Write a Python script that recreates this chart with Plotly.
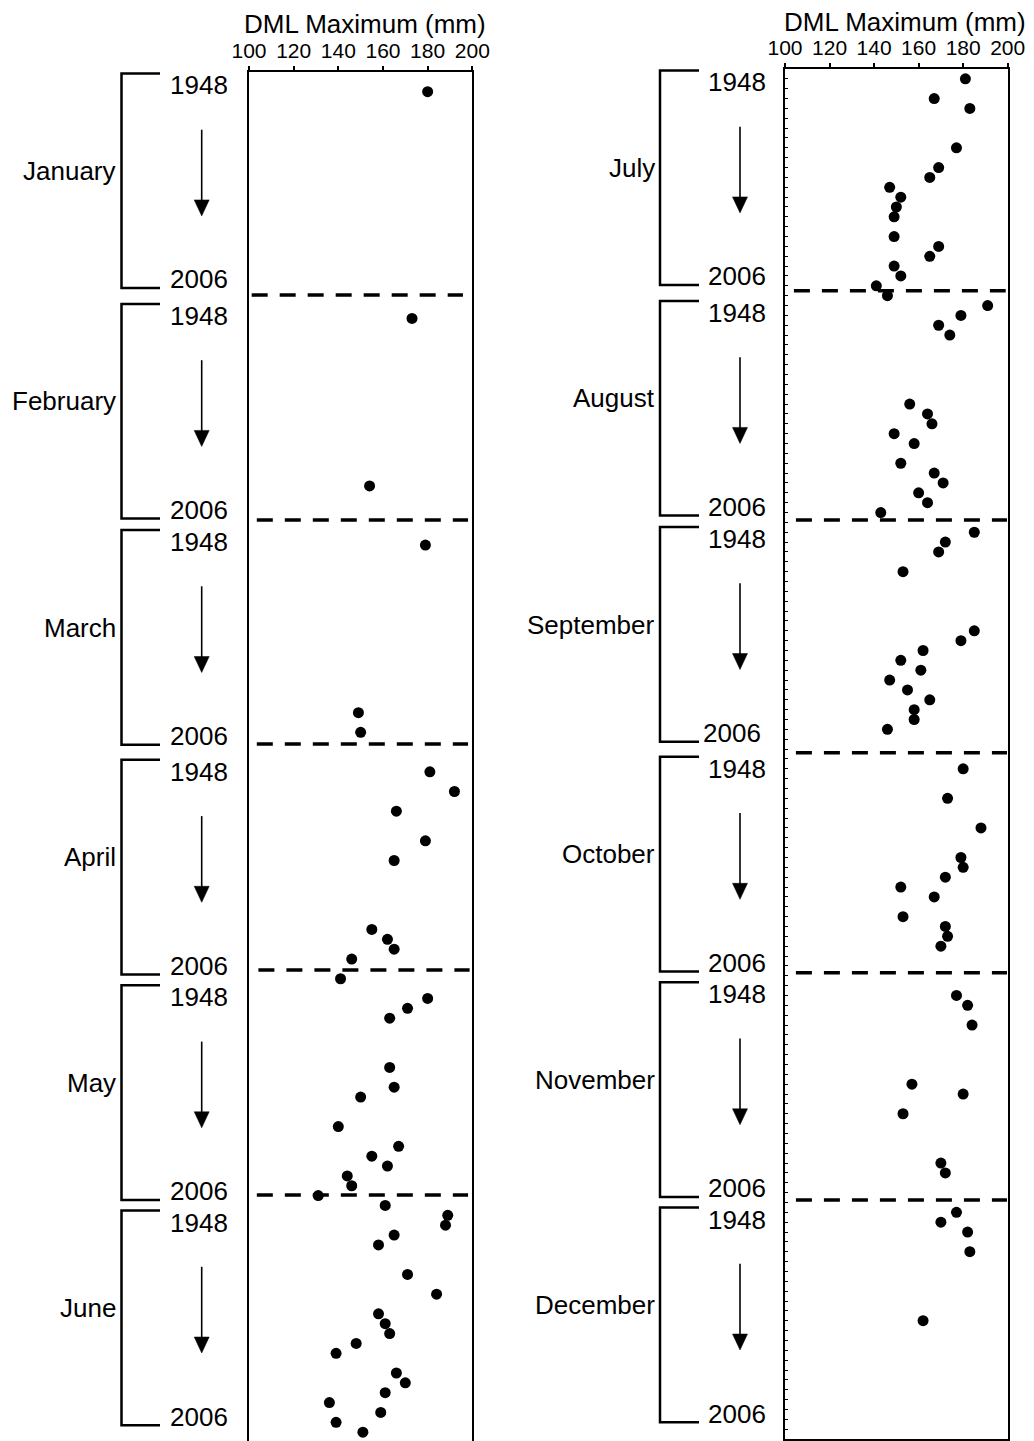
import plotly.graph_objects as go

# ---- DML maximum (mm) per month; "row" is the observation slot down each column ----
jan_row = [0]
jan_dml = [180]
feb_row = [23, 40]
feb_dml = [173, 154]
mar_row = [46, 63, 65]
mar_dml = [179, 149, 150]
apr_row = [69, 71, 73, 76, 78, 85, 86, 87, 88, 90]
apr_dml = [181, 192, 166, 179, 165, 155, 162, 165, 146, 141]
may_row = [92, 93, 94, 99, 101, 102, 105, 107, 108, 109, 110, 111, 112]
may_dml = [180, 171, 163, 163, 165, 150, 140, 167, 155, 162, 144, 146, 131]
jun_row = [113, 114, 115, 116, 117, 120, 122, 124, 125, 126, 127, 128, 130, 131, 132, 133, 134, 135, 136]
jun_dml = [161, 189, 188, 165, 158, 171, 184, 158, 161, 163, 148, 139, 166, 170, 161, 136, 159, 139, 151]

jul_row = [0, 2, 3, 7, 9, 10, 11, 12, 13, 14, 16, 17, 18, 19, 20, 21, 22]
jul_dml = [181, 167, 183, 177, 169, 165, 147, 152, 150, 149, 149, 169, 165, 149, 152, 141, 146]
aug_row = [23, 24, 25, 26, 33, 34, 35, 36, 37, 39, 40, 41, 42, 43, 44]
aug_dml = [191, 179, 169, 174, 156, 164, 166, 149, 158, 152, 167, 171, 160, 164, 143]
sep_row = [46, 47, 48, 50, 56, 57, 58, 59, 60, 61, 62, 63, 64, 65, 66]
sep_dml = [185, 172, 169, 153, 185, 179, 162, 152, 161, 147, 155, 165, 158, 158, 146]
oct_row = [70, 73, 76, 79, 80, 81, 82, 83, 85, 86, 87, 88]
oct_dml = [180, 173, 188, 179, 180, 172, 152, 167, 153, 172, 173, 170]
nov_row = [93, 94, 96, 102, 103, 105, 110, 111]
nov_dml = [177, 182, 184, 157, 180, 153, 170, 172]
dec_row = [115, 116, 117, 119, 126]
dec_dml = [177, 170, 182, 183, 162]

left_months = ["January", "February", "March", "April", "May", "June"]
right_months = ["July", "August", "September", "October", "November", "December"]
first_year = "1948"
last_year = "2006"
x_ticks = [100, 120, 140, 160, 180, 200]

# month separators (row positions) and the DML span each dashed line covers
left_splits = [20.63, 43.45, 66.18, 89.11, 111.94]
left_split_span = [(101.2, 195.8), (103.5, 198.1), (103.5, 198.1), (104.2, 198.8), (103.5, 198.1)]
right_splits = [21.49, 44.76, 68.37, 90.69, 113.75]
right_split_span = [(104.0, 199.1), (104.9, 199.7), (104.9, 199.7), (104.9, 199.7), (104.9, 199.7)]

# ---- page geometry ----
W, H = 1034, 1441
ROW_PX = 1370 / 139          # pixels per observation slot
FONT = "Liberation Sans, Arial, sans-serif"
BLACK = "black"

LEFT_TOP_ROW = -2
RIGHT_TOP_ROW = -1
# offset (px) of each month bracket below the top of its column
BRACKET_TOP_PX = [1.4, 231.9, 458.0, 687.8, 913.3, 1138.5]


def px(x):
    return x / W


def rows(p):
    return p / ROW_PX


fig = go.Figure()

left_sets = [(jan_row, jan_dml), (feb_row, feb_dml), (mar_row, mar_dml),
             (apr_row, apr_dml), (may_row, may_dml), (jun_row, jun_dml)]
right_sets = [(jul_row, jul_dml), (aug_row, aug_dml), (sep_row, sep_dml),
              (oct_row, oct_dml), (nov_row, nov_dml), (dec_row, dec_dml)]

for name, (r, v) in zip(left_months, left_sets):
    fig.add_trace(go.Scatter(x=v, y=r, mode="markers", name=name,
                             marker=dict(color=BLACK, size=11, line=dict(width=0)),
                             xaxis="x", yaxis="y", showlegend=False, hoverinfo="x+name"))
for name, (r, v) in zip(right_months, right_sets):
    fig.add_trace(go.Scatter(x=v, y=r, mode="markers", name=name,
                             marker=dict(color=BLACK, size=11, line=dict(width=0)),
                             xaxis="x2", yaxis="y2", showlegend=False, hoverinfo="x+name"))

shapes = []
annotations = []

# dashed month separators
for yref, xref, splits, spans in (("y", "x", left_splits, left_split_span),
                                  ("y2", "x2", right_splits, right_split_span)):
    for s, (a, b) in zip(splits, spans):
        shapes.append(dict(type="line", xref=xref, yref=yref, x0=a, x1=b, y0=s, y1=s,
                           line=dict(color=BLACK, width=3.5, dash="16px,12px")))

# bracket + year labels + arrow + month name for every month
columns = [
    dict(yref="y", top=LEFT_TOP_ROW, months=left_months, bx=121.5, bx2=160.0,
         lab=198.5, arr=201.7, mon=118.0, last_shift=[0, 0, 0, 0, 0, 0]),
    dict(yref="y2", top=RIGHT_TOP_ROW, months=right_months, bx=660.0, bx2=699.0,
         lab=737.2, arr=740.0, mon=657.0, last_shift=[0, 0, -5.5, 0, 0, 0]),
]
for col in columns:
    yref = col["yref"]
    for i, month in enumerate(col["months"]):
        t = col["top"] + rows(BRACKET_TOP_PX[i])
        b = t + rows(214.7)
        shapes.append(dict(type="path", xref="paper", yref=yref,
                           path=f"M {px(col['bx2'])},{t} L {px(col['bx'])},{t} "
                                f"L {px(col['bx'])},{b} L {px(col['bx2'])},{b}",
                           line=dict(color=BLACK, width=2.5)))
        a0 = t + rows(56.3)
        tip = t + rows(142.5)
        head = tip - rows(16)
        shapes.append(dict(type="line", xref="paper", yref=yref,
                           x0=px(col["arr"]), x1=px(col["arr"]), y0=a0, y1=head + rows(2),
                           line=dict(color=BLACK, width=1.6)))
        shapes.append(dict(type="path", xref="paper", yref=yref,
                           path=f"M {px(col['arr'] - 7.5)},{head} L {px(col['arr'] + 7.5)},{head} "
                                f"L {px(col['arr'])},{tip} Z",
                           fillcolor=BLACK, line=dict(color=BLACK, width=0.5)))
        annotations.append(dict(text=first_year, xref="paper", yref=yref,
                                x=px(col["lab"]), y=t + rows(12), xanchor="center",
                                yanchor="middle", showarrow=False,
                                font=dict(family=FONT, size=26, color=BLACK)))
        annotations.append(dict(text=last_year, xref="paper", yref=yref,
                                x=px(col["lab"] + col["last_shift"][i]), y=t + rows(206),
                                xanchor="center", yanchor="middle", showarrow=False,
                                font=dict(family=FONT, size=26, color=BLACK)))
        annotations.append(dict(text=month, xref="paper", yref=yref,
                                x=px(col["mon"]), y=t + rows(97.5), xanchor="right",
                                yanchor="middle", showarrow=False,
                                font=dict(family=FONT, size=26, color=BLACK)))

# axis titles above the tick labels
for xc, yc in ((364.5, 23.7), (905.0, 21.7)):
    annotations.append(dict(text="DML Maximum (mm)", xref="paper", yref="paper",
                            x=px(xc), y=1 - yc / H, xanchor="center", yanchor="middle",
                            showarrow=False, font=dict(family=FONT, size=26, color=BLACK)))

axis_common = dict(showgrid=False, zeroline=False, linecolor=BLACK, linewidth=1.5,
                   automargin=False)

fig.update_layout(
    template="none",
    width=W, height=H, margin=dict(l=0, r=0, t=0, b=0, pad=0, autoexpand=False),
    paper_bgcolor="white", plot_bgcolor="white",
    font=dict(family=FONT, color=BLACK),
    showlegend=False,
    xaxis=dict(domain=[px(249), px(472.3)], range=[100, 200], side="top", anchor="y",
               tickmode="array", tickvals=x_ticks, ticks="outside", ticklen=4, tickwidth=1.5,
               tickcolor=BLACK, showline=True, mirror=False,
               tickfont=dict(family=FONT, size=21, color=BLACK), **axis_common),
    yaxis=dict(domain=[0, 1 - 72 / H], range=[LEFT_TOP_ROW + 1369 / ROW_PX, LEFT_TOP_ROW],
               anchor="x", showline=True, mirror=True, showticklabels=False, ticks="",
               **axis_common),
    xaxis2=dict(domain=[px(785), px(1007.7)], range=[100, 200], side="top", anchor="y2",
                tickmode="array", tickvals=x_ticks, ticks="outside", ticklen=4, tickwidth=1.5,
                tickcolor=BLACK, showline=True, mirror=True,
                tickfont=dict(family=FONT, size=21, color=BLACK), **axis_common),
    yaxis2=dict(domain=[2 / H, 1 - 69 / H], range=[RIGHT_TOP_ROW + 139, RIGHT_TOP_ROW],
                anchor="x2", showline=True, mirror=True, showticklabels=False,
                ticks="inside", tickmode="linear", tick0=0, dtick=1, ticklen=3,
                tickwidth=1, tickcolor=BLACK, **axis_common),
    shapes=shapes,
    annotations=annotations,
)

fig.write_html("out.html")
